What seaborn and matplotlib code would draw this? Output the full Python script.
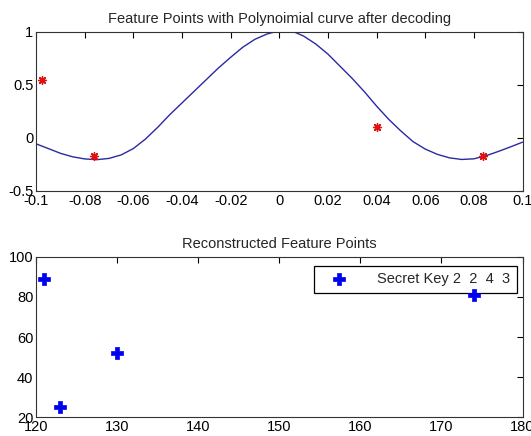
import matplotlib
matplotlib.use("Agg")
import matplotlib.pyplot as plt
import seaborn as sns
import pandas as pd

# ---- data ----
curve_x = [-0.100, -0.095, -0.090, -0.085, -0.080, -0.075, -0.070, -0.065, -0.060, -0.055,
           -0.050, -0.045, -0.040, -0.035, -0.030, -0.025, -0.020, -0.015, -0.010, -0.005,
           0.000, 0.005, 0.010, 0.015, 0.020, 0.025, 0.030, 0.035, 0.040, 0.045,
           0.050, 0.055, 0.060, 0.065, 0.070, 0.075, 0.080, 0.085, 0.090, 0.095, 0.100]
curve_y = [-0.056, -0.10, -0.145, -0.178, -0.198, -0.205, -0.193, -0.160, -0.100, -0.01,
           0.10, 0.22, 0.33, 0.44, 0.55, 0.66, 0.76, 0.855, 0.93, 0.98,
           1.01, 1.01, 0.96, 0.885, 0.79, 0.675, 0.56, 0.435, 0.30, 0.175,
           0.065, -0.035, -0.105, -0.155, -0.188, -0.203, -0.197, -0.168, -0.128, -0.085, -0.04]

feat_x = [-0.0975, -0.076, 0.040, 0.0838]
feat_y = [0.55, -0.175, 0.105, -0.175]

recon_x = [121, 123, 130, 174]
recon_y = [89, 25, 52, 81]
legend_label = "Secret Key 2  2  4  3"

top_title = "Feature Points with Polynoimial curve after decoding"
bottom_title = "Reconstructed Feature Points"

top_xticks = [-0.1, -0.08, -0.06, -0.04, -0.02, 0, 0.02, 0.04, 0.06, 0.08, 0.1]
top_xticklabels = ["-0.1", "-0.08", "-0.06", "-0.04", "-0.02", "0", "0.02", "0.04", "0.06", "0.08", "0.1"]
top_yticks = [-0.5, 0, 0.5, 1]
top_yticklabels = ["-0.5", "0", "0.5", "1"]
bot_xticks = [120, 130, 140, 150, 160, 170, 180]
bot_xticklabels = ["120", "130", "140", "150", "160", "170", "180"]
bot_yticks = [20, 40, 60, 80, 100]
bot_yticklabels = ["20", "40", "60", "80", "100"]

# ---- style ----
sns.set_style("white")
plt.rcParams["font.family"] = ["Liberation Sans", "DejaVu Sans"]
plt.rcParams["font.size"] = 10

fig = plt.figure(figsize=(5.31, 4.36), dpi=100)
fig.patch.set_facecolor("white")

ax1 = fig.add_axes([0.068, 0.562, 0.916, 0.365])
ax2 = fig.add_axes([0.068, 0.043, 0.916, 0.368])

df_curve = pd.DataFrame({"x": curve_x, "y": curve_y})
df_feat = pd.DataFrame({"x": feat_x, "y": feat_y})
df_rec = pd.DataFrame({"x": recon_x, "y": recon_y})

sns.lineplot(data=df_curve, x="x", y="y", ax=ax1, color="#2a2aa0", linewidth=1.0,
             sort=False, estimator=None)
sns.scatterplot(data=df_feat, x="x", y="y", ax=ax1, marker=(8, 2, 0), color="#e01010",
                s=32, linewidth=1.0, edgecolor="#e01010", zorder=3)

sns.scatterplot(data=df_rec, x="x", y="y", ax=ax2, marker="P", color="#0000f0",
                s=65, linewidth=0.5, edgecolor="#0000f0", label=legend_label, zorder=3)

def style(ax, xt, xtl, yt, ytl, xlim, ylim, title):
    ax.set_xlim(*xlim)
    ax.set_ylim(*ylim)
    ax.set_xticks(xt)
    ax.set_xticklabels(xtl)
    ax.set_yticks(yt)
    ax.set_yticklabels(ytl)
    ax.set_xlabel("")
    ax.set_ylabel("")
    ax.tick_params(direction="in", length=4, width=0.8, top=True, right=True,
                   labelsize=10.5, colors="black", pad=2)
    for sp in ax.spines.values():
        sp.set_visible(True)
        sp.set_color("#333333")
        sp.set_linewidth(0.8)
    ax.set_title(title, fontsize=10.5, pad=6)

style(ax1, top_xticks, top_xticklabels, top_yticks, top_yticklabels,
      (-0.1, 0.1), (-0.5, 1), top_title)
style(ax2, bot_xticks, bot_xticklabels, bot_yticks, bot_yticklabels,
      (120, 180), (20, 100), bottom_title)

leg = ax2.legend(loc="upper right", frameon=True, fancybox=False, fontsize=10.5,
                 edgecolor="black", borderpad=0.45, handlelength=2.6, handletextpad=1.3,
                 framealpha=1, bbox_to_anchor=(1.003, 0.99))
leg.get_frame().set_linewidth(0.9)
leg.set_zorder(2)

fig.savefig("out.png", dpi=100, facecolor="white")
